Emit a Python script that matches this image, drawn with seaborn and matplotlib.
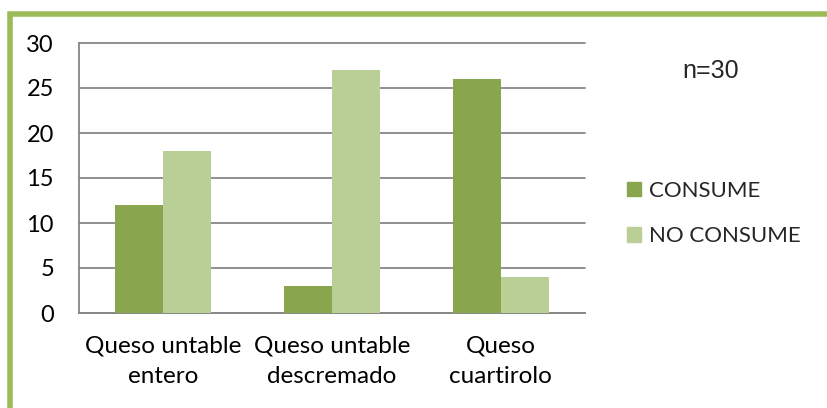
import matplotlib
matplotlib.use("Agg")
import matplotlib.pyplot as plt
import seaborn as sns
import pandas as pd
from matplotlib.patches import Rectangle

categories = ["Queso untable\nentero", "Queso untable\ndescremado", "Queso\ncuartirolo"]
consume = [12, 3, 26]
no_consume = [18, 27, 4]
series_names = ["CONSUME", "NO CONSUME"]
yticks = [0, 5, 10, 15, 20, 25, 30]

df = pd.DataFrame({
    "cat": categories * 2,
    "serie": [series_names[0]] * 3 + [series_names[1]] * 3,
    "valor": consume + no_consume,
})

sns.set_theme(style="white")
plt.rcParams["font.family"] = ["Lato", "DejaVu Sans"]

W, H = 828, 408
fig = plt.figure(figsize=(W / 100, H / 100), dpi=100)
ax = fig.add_axes([79 / W, 1 - 313 / H, (585 - 79) / W, (313 - 43) / H])

palette = {"CONSUME": "#89A54E", "NO CONSUME": "#B9CF96"}
sns.barplot(data=df, x="cat", y="valor", hue="serie", palette=palette,
            width=0.57, saturation=1, ax=ax, legend=False, zorder=3)
for p in ax.patches:
    p.set_edgecolor("none")

ax.set_xlim(-0.5, 2.5)
ax.set_ylim(0, 30)
ax.set_yticks(yticks)
ax.set_xlabel("")
ax.set_ylabel("")
grid_c = "#878787"
for y in yticks:
    ax.axhline(y, color=grid_c, lw=1.3, zorder=1, clip_on=False)
for s in ["top", "right"]:
    ax.spines[s].set_visible(False)
ax.spines["left"].set_color(grid_c)
ax.spines["left"].set_linewidth(1.3)
ax.spines["bottom"].set_color(grid_c)
ax.spines["bottom"].set_linewidth(1.3)

# category separators below the x axis
ax.set_xticks([-0.5, 0.5, 1.5, 2.5], minor=True)
ax.tick_params(axis="x", which="minor", length=7, width=1.3, color=grid_c, direction="out")
ax.tick_params(axis="x", which="major", length=0, labelsize=17.5, pad=16, labelcolor="black")
ax.tick_params(axis="y", which="major", length=7, width=1.3, color=grid_c, direction="out",
               labelsize=17, pad=11, labelcolor="black")
for lbl in ax.get_xticklabels():
    lbl.set_linespacing(1.6)

# legend
handles = [Rectangle((0, 0), 1, 1, color=palette[n]) for n in series_names]
fig.legend(handles, series_names, loc="center left",
           bbox_to_anchor=(627 / W, 1 - 213.5 / H), frameon=False, fontsize=16,
           handlelength=0.62, handleheight=0.62, handletextpad=0.35,
           labelspacing=1.15, borderpad=0, borderaxespad=0)

fig.text(711 / W, 1 - 71 / H, "n=30", fontsize=18, ha="center", va="center",
         family=["Liberation Sans", "DejaVu Sans"])

# chart frame
frame = Rectangle((10 / W, -0.1), 1.2, 1 - 13.5 / H + 0.1, transform=fig.transFigure,
                  fill=False, edgecolor="#9BBB59", lw=4, zorder=0)
fig.patches.append(frame)

fig.savefig("out.png", dpi=100)
